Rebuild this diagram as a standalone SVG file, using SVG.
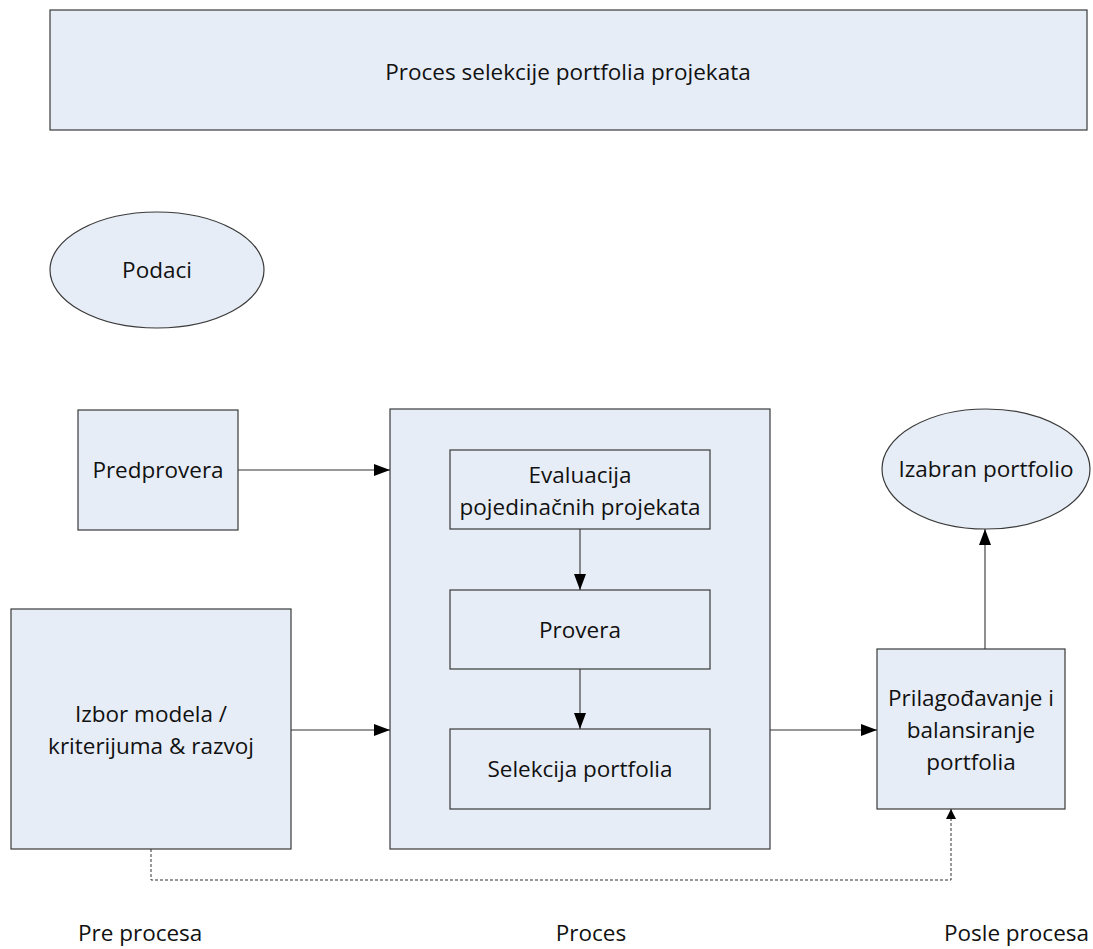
<svg xmlns="http://www.w3.org/2000/svg" width="1093" height="949" viewBox="0 0 1093 949">
<defs>
<style>
.box{fill:#e7edf6;stroke:#3a3a3a;stroke-width:1.2}
.t{font-family:"Open Sans","Noto Sans",sans-serif;font-size:22.5px;fill:#111;text-anchor:middle}
.c{stroke:#333;stroke-width:1.1;fill:none}
.d{stroke:#333;stroke-width:1;fill:none;stroke-dasharray:3,2}
</style>
<marker id="ah" viewBox="0 0 16 12" refX="16" refY="6" markerWidth="16" markerHeight="12" markerUnits="userSpaceOnUse" orient="auto">
<path d="M0,0 L16,6 L0,12 Z" fill="#000"/>
</marker>
<marker id="ahs" viewBox="0 0 10 10" refX="10" refY="5" markerWidth="10" markerHeight="10" markerUnits="userSpaceOnUse" orient="auto">
<path d="M0,0 L10,5 L0,10 Z" fill="#000"/>
</marker>
</defs>
<rect width="1093" height="949" fill="#fff"/>
<g id="title"><rect class="box" x="50" y="10" width="1037" height="120"/><text class="t" x="568" y="80">Proces selekcije portfolia projekata</text></g>
<g id="podaci"><ellipse class="box" cx="157" cy="270" rx="107" ry="58"/><text class="t" x="157" y="278">Podaci</text></g>
<g id="predprovera"><rect class="box" x="78" y="410" width="160" height="120"/><text class="t" x="158" y="478">Predprovera</text></g>
<g id="proces"><rect class="box" x="390" y="409" width="380" height="440"/></g>
<g id="evaluacija"><rect class="box" x="450" y="450" width="260" height="79"/><text class="t" x="580" y="483">Evaluacija</text><text class="t" x="580" y="515">pojedinačnih projekata</text></g>
<g id="provera"><rect class="box" x="450" y="590" width="260" height="79"/><text class="t" x="580" y="638">Provera</text></g>
<g id="selekcija"><rect class="box" x="450" y="729" width="260" height="80"/><text class="t" x="580" y="777">Selekcija portfolia</text></g>
<g id="izbor"><rect class="box" x="11" y="609" width="280" height="240"/><text class="t" x="151" y="722">Izbor modela /</text><text class="t" x="151" y="754">kriterijuma &amp; razvoj</text></g>
<g id="prilagodjavanje"><rect class="box" x="877" y="649" width="188" height="160"/><text class="t" x="971" y="706">Prilagođavanje i</text><text class="t" x="971" y="738">balansiranje</text><text class="t" x="971" y="770">portfolia</text></g>
<g id="izabran"><ellipse class="box" cx="986" cy="469" rx="104" ry="60"/><text class="t" x="986" y="477">Izabran portfolio</text></g>
<g id="labels"><text class="t" x="78" y="941" style="text-anchor:start">Pre procesa</text><text class="t" x="591" y="941">Proces</text><text class="t" x="1089" y="941" style="text-anchor:end">Posle procesa</text></g>
<g id="connectors">
<line class="c" x1="238" y1="470" x2="390" y2="470" marker-end="url(#ah)"/>
<line class="c" x1="291" y1="730" x2="390" y2="730" marker-end="url(#ah)"/>
<line class="c" x1="770" y1="730" x2="877" y2="730" marker-end="url(#ah)"/>
<line class="c" x1="580" y1="529" x2="580" y2="590" marker-end="url(#ah)"/>
<line class="c" x1="580" y1="669" x2="580" y2="729" marker-end="url(#ah)"/>
<line class="c" x1="985" y1="649" x2="985" y2="529" marker-end="url(#ah)"/>
<polyline class="d" points="151,849 151,880 951,880 951,809" marker-end="url(#ahs)"/>
</g>
</svg>
